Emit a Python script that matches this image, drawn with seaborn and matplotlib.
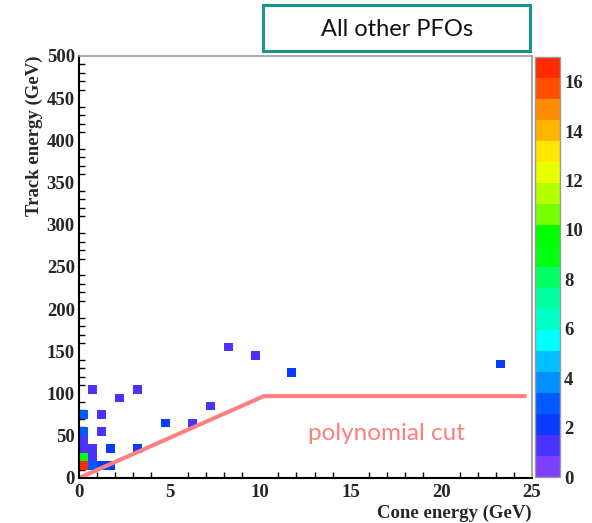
import numpy as np
import pandas as pd
import matplotlib
matplotlib.use("Agg")
import matplotlib.pyplot as plt
from matplotlib.colors import ListedColormap
from matplotlib.patches import Rectangle
from matplotlib.ticker import MultipleLocator
import seaborn as sns

# ---- data (bin centres and counts) ----
cone_energy = [0.25, 0.75, 1.25, 1.75, 0.25, 0.75, 0.25, 0.75, 1.75, 3.25,
               0.25, 0.25, 1.25, 4.75, 6.25, 7.25, 2.25, 0.75, 3.25, 0.25,
               1.25, 8.25, 9.75, 11.75, 23.25]
track_energy = [15, 15, 15, 15, 25, 25, 35, 35, 35, 35,
                45, 55, 55, 65, 65, 85, 95, 105, 105, 75,
                75, 155, 145, 125, 135]
counts = [17, 3, 2, 2, 9, 1, 1, 1, 2, 2,
          1, 3, 1, 2, 1, 1, 1, 1, 1, 3,
          1, 1, 1, 2, 2]

cut_x = [0, 10.2, 24.7]
cut_y = [0, 97, 97]

z_ticks = list(range(0, 17, 2))
title = "All other PFOs"
cut_label = "polynomial cut"

palette = ["#7f3fff", "#4b33ff", "#0a3cff", "#005aff", "#0090ff",
           "#00bfff", "#00ffff", "#00ffc8", "#00ffa0", "#00ff64",
           "#00ff10", "#00ff00", "#78ff00", "#b4ff00", "#e6ff00",
           "#ffe600", "#ffb400", "#ff8c00", "#ff5000", "#ff2a00"]

df = pd.DataFrame({"cone": cone_energy, "track": track_energy, "w": counts})

sns.set_style("white")
serif = ["Liberation Serif", "DejaVu Serif"]
plt.rcParams["font.family"] = serif
plt.rcParams["font.serif"] = serif

W, H = 592, 523
fig = plt.figure(figsize=(W / 100, H / 100), dpi=100)
ax = fig.add_axes([79 / W, 1 - 478 / H, (532 - 79) / W, (478 - 56) / H])
cax = fig.add_axes([535 / W, 1 - 477 / H, (560 - 535) / W, (477 - 57) / H])

cmap = ListedColormap(palette)
sns.histplot(data=df, x="cone", y="track", weights="w",
             bins=(50, 50), binrange=((0, 25), (0, 500)),
             cmap=cmap, vmin=0, vmax=17, cbar=True, cbar_ax=cax,
             cbar_kws={"ticks": z_ticks}, ax=ax)

ax.plot(cut_x, cut_y, color="#ff7f7f", lw=2.9, solid_capstyle="butt")
ax.text(16.95, 53, cut_label, color="#ff7f7f", fontsize=17.5,
        family=["Lato", "DejaVu Sans"], ha="center", va="center")

ax.set_xlim(0, 25)
ax.set_ylim(0, 500)
ax.set_xlabel("")
ax.set_ylabel("")
ax.xaxis.set_major_locator(MultipleLocator(5))
ax.xaxis.set_minor_locator(MultipleLocator(1))
ax.yaxis.set_major_locator(MultipleLocator(50))
ax.yaxis.set_minor_locator(MultipleLocator(10))
ax.tick_params(axis="y", which="major", direction="in", length=9.5, width=1.2,
               pad=3, labelsize=13.5, color="black",
               labelfontfamily="Liberation Serif")
ax.tick_params(axis="y", which="minor", direction="in", length=4.5, width=1.0,
               left=True, color="black")
ax.tick_params(axis="x", which="major", direction="in", length=8, width=1.2,
               pad=4, labelsize=13.5, color="black",
               labelfontfamily="Liberation Serif")
ax.tick_params(axis="x", which="minor", direction="in", length=4.5, width=1.0,
               bottom=True, color="black")
for lab in ax.get_xticklabels() + ax.get_yticklabels():
    lab.set_fontweight("bold")
for s in ["left", "bottom"]:
    ax.spines[s].set_color("black")
    ax.spines[s].set_linewidth(1.5)
for s in ["top", "right"]:
    ax.spines[s].set_color("#9a9a9a")
    ax.spines[s].set_linewidth(1.2)

cax.tick_params(direction="in", length=9, width=1.2, pad=3, labelsize=13.5,
                color="black", right=True, labelfontfamily="Liberation Serif")
for lab in cax.get_yticklabels():
    lab.set_fontweight("bold")
for s in cax.spines.values():
    s.set_color("#9a9a9a")
    s.set_linewidth(1.0)
cax.spines["right"].set_color("black")
cax.spines["right"].set_linewidth(1.5)
cax.spines["bottom"].set_color("black")

fig.text(34 / W, 1 - 56 / H, "Track energy (GeV)", rotation=90,
         ha="center", va="top", fontsize=13.5, fontweight="bold")
fig.text(532 / W, 1 - 513 / H, "Cone energy (GeV)", ha="right", va="center",
         fontsize=13.5, fontweight="bold")

fig.add_artist(Rectangle((263 / W, 1 - 51 / H), (530 - 263) / W, (51 - 5) / H,
                         transform=fig.transFigure, fill=False,
                         edgecolor="#17968c", linewidth=2.2))
fig.text(397 / W, 1 - 29 / H, title, ha="center", va="center", fontsize=17,
         family=["Lato", "DejaVu Sans"], color="#111111")

fig.savefig("out.png", dpi=100)
